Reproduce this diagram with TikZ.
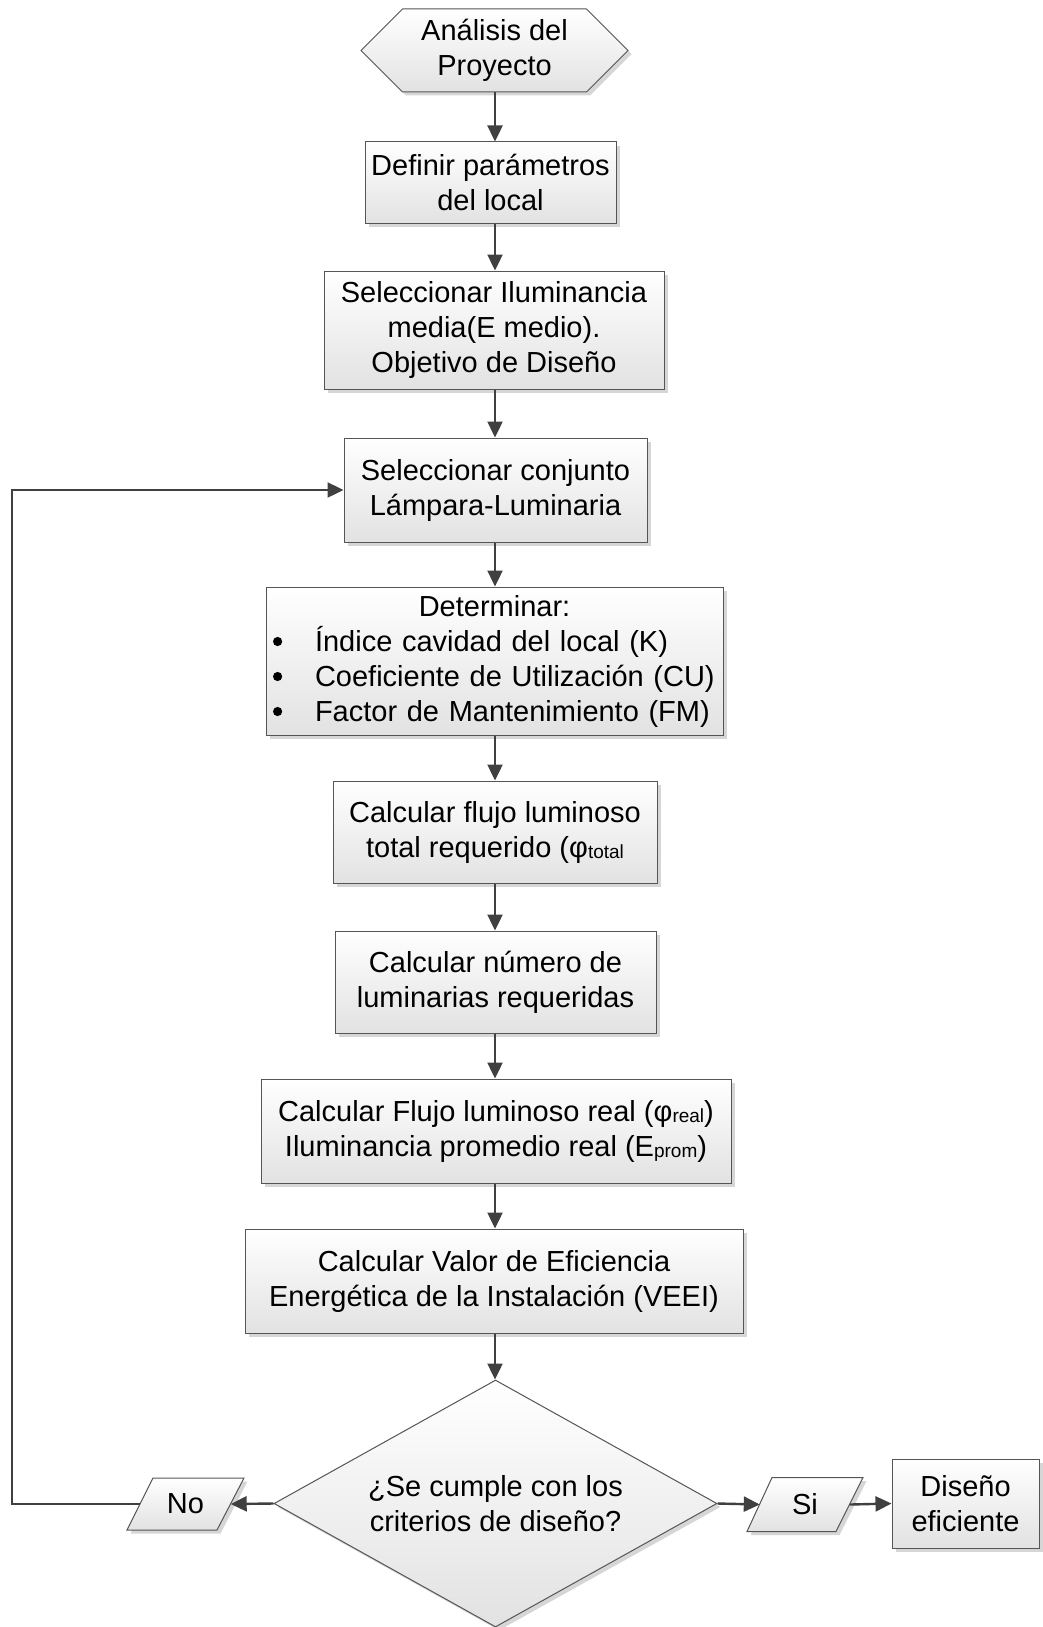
\documentclass[tikz,border=0pt]{standalone}
\usepackage{fontspec}
\setmainfont{Liberation Sans}
\usetikzlibrary{arrows.meta,shapes.geometric,shapes.symbols,shadows,calc}
\definecolor{lnc}{HTML}{404040}
\definecolor{bdc}{HTML}{555555}
\definecolor{shb}{HTML}{E2E2E2}
\newcommand{\smsub}[1]{\raisebox{-1pt}{\fontsize{19}{19}\selectfont #1}}
\newcommand{\bul}{\tikz[baseline={(0pt,-9.5pt)}]\fill[black] (0pt,0pt) circle[radius=4.6pt];}
\begin{document}
\begin{tikzpicture}[x=1pt,y=1pt,
  every node/.style={font=\fontsize{29}{35}\selectfont, text=black},
  fig/.style={draw=bdc, line width=1pt, top color=white, bottom color=shb,
    drop shadow={shadow xshift=3.5pt, shadow yshift=-3.5pt, fill=black, opacity=0.16},
    align=center, inner sep=0pt},
  box/.style={fig, rectangle},
  paratext/.style={rectangle, inner sep=0pt, minimum width=90, minimum height=52},
  arr/.style={draw=lnc, line width=2.4pt, -{Triangle[length=16pt,width=15pt]}}]
\useasboundingbox (0,0) rectangle (1043,-1627);
\coordinate (sp) at (495,0);
\coordinate (lx) at (12,0);

\node[fig, signal, signal to=west and east, signal pointer angle=90,
  minimum width=267, minimum height=83] (hex) at (494.5,-50.5) {Análisis del\\Proyecto};
\node[box, minimum width=251, minimum height=81] (b1) at (490.5,-182.5) {Definir parámetros\\del local};
\node[box, minimum width=340, minimum height=118] (b2) at (494,-330) {Seleccionar Iluminancia\\media(E medio).\\Objetivo de Diseño};
\node[box, minimum width=303, minimum height=104] (b3) at (495.5,-490) {Seleccionar conjunto\\Lámpara-Luminaria};
\node[box, minimum width=457, minimum height=148, text width=457pt, align=left] (b4) at (494.5,-661)
  {\makebox[457pt][c]{Determinar:}\\
   \hspace*{7pt}\makebox[42pt][l]{\bul}Índice cavidad del local (K)\\
   \hspace*{7pt}\makebox[42pt][l]{\bul}Coeficiente de Utilización (CU)\\
   \hspace*{7pt}\makebox[42pt][l]{\bul}Factor de Mantenimiento (FM)};
\node[box, minimum width=324, minimum height=102] (b5) at (495,-832) {Calcular flujo luminoso\\total requerido (φ\smsub{total}};
\node[box, minimum width=321, minimum height=102] (b6) at (495.5,-982) {Calcular número de\\luminarias requeridas};
\node[box, minimum width=470, minimum height=104] (b7) at (496,-1131) {Calcular Flujo luminoso real (φ\smsub{real})\\Iluminancia promedio real (E\smsub{prom})};
\node[box, minimum width=498, minimum height=104] (b8) at (494,-1281) {Calcular Valor de Eficiencia\\Energética de la Instalación (VEEI)};
\node[fig, diamond, aspect=1.79, minimum width=443, minimum height=247] (dia) at (495.5,-1503.5) {¿Se cumple con los\\criterios de diseño?};

% parallelograms: outline first, then the named text node on top
\path[fig] (185.5-58.5,-1504-26) -- (185.5+31.5,-1504-26) -- (185.5+58.5,-1504+26) -- (185.5-32.5,-1504+26) -- cycle;
\node[paratext] (no) at (185.5,-1504) {No};
\path[fig] (805-58,-1504.5-27) -- (805+31,-1504.5-27) -- (805+58,-1504.5+27) -- (805-33,-1504.5+27) -- cycle;
\node[paratext] (si) at (805,-1504.5) {Si};

\node[box, minimum width=147, minimum height=89] (dis) at (965.5,-1503.5) {Diseño\\eficiente};

\draw[arr] (hex.south -| sp) -- (b1.north -| sp);
\draw[arr] (b1.south -| sp) -- (b2.north -| sp);
\draw[arr] (b2.south -| sp) -- (b3.north -| sp);
\draw[arr] (b3.south -| sp) -- (b4.north -| sp);
\draw[arr] (b4.south -| sp) -- (b5.north -| sp);
\draw[arr] (b5.south -| sp) -- (b6.north -| sp);
\draw[arr] (b6.south -| sp) -- (b7.north -| sp);
\draw[arr] (b7.south -| sp) -- (b8.north -| sp);
\draw[arr] (b8.south -| sp) -- (dia.north -| sp);
\draw[arr] (dia.west) -- (no.east);
\draw[arr] (dia.east) -- (si.west);
\draw[arr] (si.east) -- (dis.west);
\draw[arr] (no.west) -- (no.west -| lx) |- (b3.west);
\end{tikzpicture}
\end{document}
